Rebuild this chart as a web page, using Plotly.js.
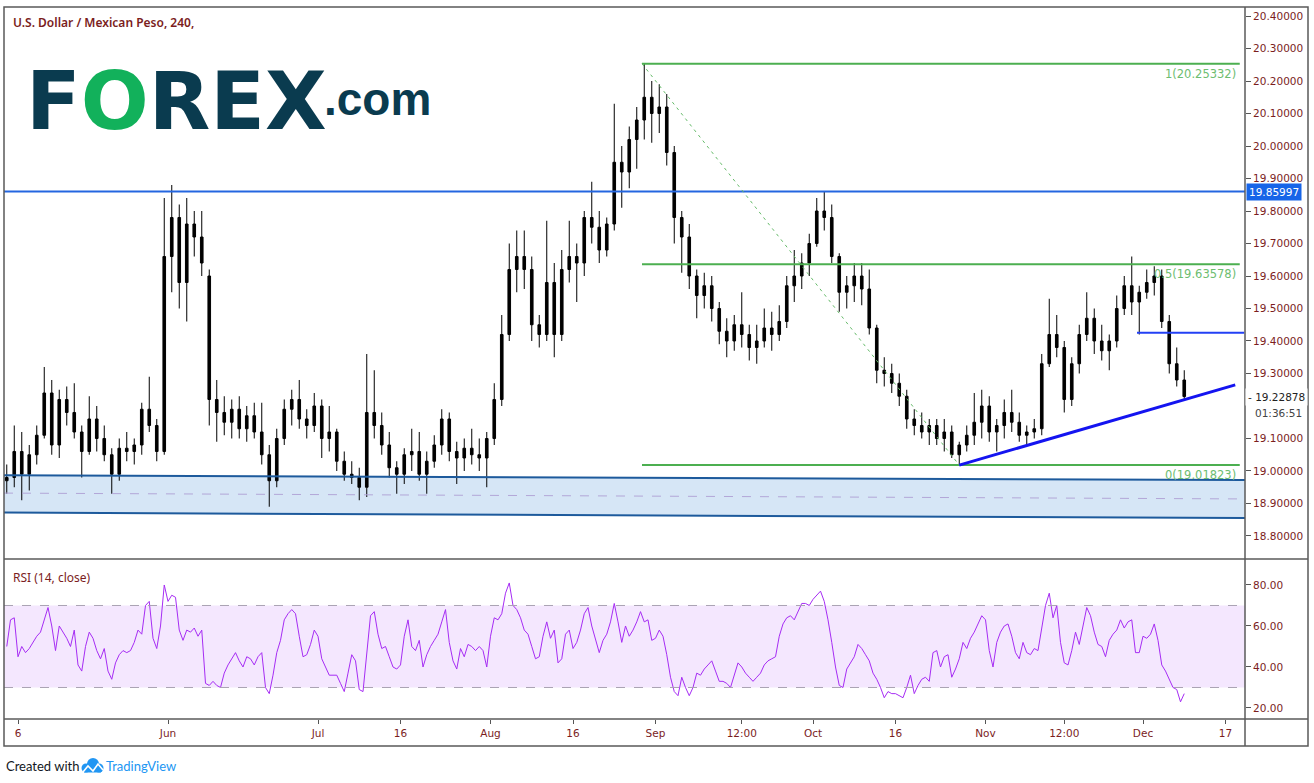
<!DOCTYPE html>
<html>
<head>
<meta charset="utf-8">
<script src="https://cdn.plot.ly/plotly-3.0.1.min.js"></script>
<style>html,body{margin:0;padding:0;background:#fff;}#chart{width:1314px;height:783px;}</style>
</head>
<body>
<div id="chart"></div>
<script>
// ---- DATA (day index: 0 = 6 May, trading days only) ----
const firstDay = -2;
const open  = [18.97,18.98,19.06,18.99,19.05,19.11,19.24,19.08,19.22,19.18,19.12,19.06,19.16,19.10,19.05,18.99,19.07,19.06,19.08,19.19,
19.14,19.06,19.66,19.78,19.58,19.76,19.72,19.60,19.22,19.18,19.15,19.19,19.13,19.17,19.12,19.05,18.97,19.10,19.19,19.22,
19.16,19.14,19.20,19.10,19.12,19.03,18.99,18.98,18.95,19.18,19.14,19.08,19.01,18.99,19.05,19.06,18.99,19.03,19.08,19.16,
19.06,19.04,19.07,19.05,19.04,19.10,19.22,19.42,19.62,19.66,19.62,19.45,19.42,19.58,19.42,19.62,19.66,19.64,19.78,19.75,
19.68,19.76,19.95,19.92,20.02,20.08,20.15,20.10,20.12,19.98,19.78,19.72,19.60,19.54,19.57,19.50,19.43,19.40,19.45,19.42,
19.38,19.40,19.44,19.42,19.46,19.57,19.60,19.64,19.70,19.80,19.78,19.66,19.55,19.57,19.60,19.56,19.44,19.31,19.30,19.27,
19.23,19.16,19.14,19.12,19.14,19.10,19.12,19.05,19.08,19.11,19.15,19.20,19.12,19.14,19.18,19.15,19.11,19.12,19.13,19.33,
19.42,19.38,19.22,19.33,19.42,19.47,19.40,19.37,19.40,19.50,19.57,19.52,19.55,19.58,19.60,19.46,19.33,19.28];
const high  = [19.02,19.14,19.12,19.08,19.14,19.32,19.28,19.25,19.26,19.27,19.14,19.23,19.20,19.14,19.07,19.10,19.12,19.10,19.21,19.29,
19.16,19.84,19.88,19.82,19.84,19.80,19.80,19.62,19.28,19.23,19.22,19.23,19.20,19.21,19.21,19.08,19.13,19.22,19.25,19.28,
19.19,19.24,19.22,19.20,19.13,19.06,19.03,19.01,19.36,19.31,19.18,19.12,19.03,19.07,19.13,19.12,19.06,19.11,19.19,19.18,
19.09,19.10,19.13,19.10,19.12,19.27,19.48,19.70,19.74,19.74,19.66,19.48,19.77,19.64,19.68,19.77,19.70,19.80,19.89,19.80,
19.78,20.13,20.00,20.06,20.12,20.253,20.20,20.19,20.16,20.00,19.80,19.76,19.62,19.61,19.60,19.52,19.47,19.48,19.55,19.45,
19.45,19.50,19.49,19.51,19.60,19.68,19.67,19.73,19.84,19.86,19.82,19.67,19.60,19.64,19.64,19.62,19.45,19.35,19.33,19.30,
19.25,19.19,19.18,19.16,19.16,19.16,19.14,19.09,19.14,19.24,19.25,19.23,19.16,19.22,19.25,19.18,19.14,19.16,19.36,19.53,
19.48,19.40,19.35,19.45,19.55,19.50,19.45,19.42,19.54,19.60,19.66,19.57,19.62,19.63,19.62,19.48,19.38,19.31];
const low   = [18.93,18.95,18.91,18.94,19.02,19.10,19.05,19.04,19.14,19.10,18.98,19.05,19.06,19.03,18.93,18.97,19.03,19.02,19.05,19.12,
19.03,19.05,19.55,19.50,19.46,19.66,19.60,19.14,19.09,19.11,19.10,19.10,19.09,19.10,19.02,18.89,18.95,19.08,19.14,19.13,
19.10,19.12,19.04,19.06,19.00,18.97,18.96,18.91,18.92,19.10,19.05,18.98,18.93,18.96,19.00,18.97,18.93,19.01,19.05,19.03,
18.96,19.00,19.02,19.00,18.95,19.08,19.20,19.40,19.55,19.56,19.40,19.38,19.40,19.35,19.40,19.58,19.52,19.60,19.70,19.64,
19.66,19.74,19.81,19.87,19.93,20.02,20.01,20.04,19.94,19.70,19.61,19.56,19.47,19.50,19.46,19.39,19.35,19.37,19.38,19.34,
19.33,19.38,19.37,19.40,19.44,19.52,19.56,19.60,19.69,19.74,19.64,19.49,19.50,19.52,19.51,19.42,19.27,19.26,19.24,19.20,
19.13,19.11,19.10,19.08,19.08,19.06,19.04,19.018,19.06,19.08,19.10,19.09,19.06,19.10,19.12,19.09,19.08,19.10,19.11,19.32,
19.35,19.18,19.20,19.30,19.40,19.36,19.34,19.31,19.38,19.48,19.48,19.42,19.53,19.54,19.44,19.30,19.26,19.22];
const close = [18.98,19.06,18.99,19.05,19.11,19.24,19.08,19.22,19.18,19.12,19.06,19.16,19.10,19.05,18.99,19.07,19.06,19.08,19.19,19.14,
19.06,19.66,19.78,19.58,19.76,19.72,19.64,19.22,19.18,19.15,19.19,19.13,19.17,19.12,19.05,18.97,19.10,19.19,19.22,19.16,
19.14,19.20,19.10,19.12,19.03,18.99,18.98,18.95,19.18,19.14,19.08,19.01,18.99,19.05,19.06,18.99,19.03,19.08,19.16,19.06,
19.04,19.07,19.05,19.04,19.10,19.22,19.42,19.62,19.66,19.62,19.45,19.42,19.58,19.42,19.62,19.66,19.64,19.78,19.75,19.68,
19.76,19.95,19.92,20.02,20.08,20.15,20.10,20.12,19.98,19.78,19.72,19.60,19.54,19.57,19.50,19.43,19.40,19.45,19.42,19.38,
19.40,19.44,19.42,19.46,19.57,19.60,19.64,19.70,19.80,19.78,19.66,19.55,19.57,19.60,19.56,19.44,19.31,19.30,19.27,19.23,
19.16,19.14,19.12,19.14,19.10,19.12,19.05,19.08,19.11,19.15,19.20,19.12,19.14,19.18,19.15,19.11,19.12,19.13,19.33,19.42,
19.38,19.22,19.33,19.42,19.47,19.40,19.37,19.40,19.50,19.57,19.52,19.55,19.58,19.60,19.46,19.33,19.28,19.229];

// RSI(14) sampled every half day, starting at day -1.5
const rsiStart = -1.5;
const rsiStep = 0.5;
const rsi = [50,63,64,
45,50,47,49,52,55,57,63,69,60,
48,60,57,54,50,58,41,38,50,57,
54,48,44,49,38,34,42,46,48,47,
48,52,58,56,70,72,54,49,60,80,
72,75,74,58,53,58,57,59,55,58,
32,31,33,31,30,37,41,44,47,43,
40,45,44,41,45,47,30,27,36,47,
53,63,66,68,66,55,45,46,51,58,
55,44,40,36,36,36,32,28,37,46,
43,29,28,45,65,67,56,49,50,45,
40,39,41,55,63,50,48,53,40,46,
50,53,56,62,68,52,43,39,49,45,
51,50,48,50,48,40,55,64,63,66,
76,81,70,68,64,58,56,50,44,45,
55,62,54,58,42,44,56,58,49,52,
58,66,69,60,54,47,53,56,62,71,
62,52,60,55,58,62,67,62,63,53,
54,58,55,46,35,28,26,35,30,26,
30,37,36,39,41,43,38,33,33,32,
30,36,42,40,37,35,33,35,37,41,
43,44,45,55,61,64,65,63,67,71,
71,70,73,75,77,72,63,52,40,31,
30,39,42,45,51,49,46,43,37,34,
30,25,28,27,27,26,25,30,36,27,
31,34,35,33,47,48,40,45,46,35,
39,44,52,49,54,57,61,65,63,48,
40,52,57,60,61,55,47,44,52,47,
46,49,48,60,70,76,64,70,52,42,
41,48,57,51,61,69,65,57,51,50,
45,53,56,58,63,59,62,63,47,47,
55,54,56,61,53,41,38,34,30,29,
23,27];

const tickDays   = [0,20,40,51,63,74,85,96.5,106,117,129,139.5,150,161];
const tickLabels = ['6','Jun','Jul','16','Aug','16','Sep','12:00','Oct','16','Nov','12:00','Dec','17'];
const priceTicks = [18.8,18.9,19.0,19.1,19.3,19.4,19.5,19.6,19.7,19.8,19.9,20.0,20.1,20.2,20.3,20.4];
const rsiTicks = [20,40,60,80];

const fibLevels = [20.25332, 19.63578, 19.01823];
const fibLabels = ['1(20.25332)', '0.5(19.63578)', '0(19.01823)'];
const fibStartDay = 83.2, fibLowDay = 125.5, fibEndDay = 162.9;
const resistance = 19.85997;
const shortLevel = 19.425, shortStartDay = 149.2;
const trendDays = [125.5, 162.3];
const trendPrices = [19.018, 19.265];
const channelTop = [18.987, 18.972];
const channelMid = [18.932, 18.914];
const channelBottom = [18.872, 18.855];
const lastPrice = 19.22878;
const countdown = '01:36:51';

// ---- LAYOUT HELPERS ----
const L = 4, R = 1245, T = 7, B = 719, SPLIT = 559;
const PX = px => (px - L) / (R - L);
const PY = py => (B - py) / (B - T);
const xRange = [-1.867, 163.6];
const maroon = '#7b1d1d';
const axisFont = {family: 'DejaVu Sans', size: 10.5, color: maroon};

const candleX = open.map((_, i) => firstDay + i + 0.5);
const rsiX = rsi.map((_, i) => rsiStart + i * rsiStep);

const traces = [
  {type: 'candlestick', x: candleX, open: open, high: high, low: low, close: close,
   xaxis: 'x', yaxis: 'y', whiskerwidth: 0, hoverinfo: 'skip',
   increasing: {line: {color: '#000', width: 1}, fillcolor: '#000'},
   decreasing: {line: {color: '#000', width: 1}, fillcolor: '#000'}},
  {type: 'scatter', mode: 'lines', x: rsiX, y: rsi, xaxis: 'x', yaxis: 'y2',
   line: {color: '#a62cf4', width: 1}, hoverinfo: 'skip'}
];

const shapes = [];
// RSI band
shapes.push({type: 'rect', xref: 'paper', yref: 'y2', x0: 0, x1: 1, y0: 30, y1: 70, fillcolor: '#f4e7fe', line: {width: 0}, layer: 'below'});
[70, 30].forEach(v => shapes.push({type: 'line', xref: 'paper', yref: 'y2', x0: 0, x1: 1, y0: v, y1: v, line: {color: '#aaa3b4', width: 1, dash: 'dash'}}));
// channel
shapes.push({type: 'path', xref: 'x', yref: 'y', layer: 'below', line: {width: 0}, fillcolor: 'rgba(52,128,210,0.2)',
  path: `M ${xRange[0]},${channelTop[0]} L ${xRange[1]},${channelTop[1]} L ${xRange[1]},${channelBottom[1]} L ${xRange[0]},${channelBottom[0]} Z`});
[channelTop, channelBottom].forEach(c => shapes.push({type: 'line', xref: 'x', yref: 'y', x0: xRange[0], x1: xRange[1], y0: c[0], y1: c[1], line: {color: '#1d5a9c', width: 2}}));
shapes.push({type: 'line', xref: 'x', yref: 'y', x0: xRange[0], x1: xRange[1], y0: channelMid[0], y1: channelMid[1], line: {color: '#b3a7d8', width: 1, dash: 'dash'}});
// resistance
shapes.push({type: 'line', xref: 'paper', yref: 'y', x0: 0, x1: 1, y0: resistance, y1: resistance, line: {color: '#2466e0', width: 2}});
// fib
fibLevels.forEach(v => shapes.push({type: 'line', xref: 'x', yref: 'y', x0: fibStartDay, x1: fibEndDay, y0: v, y1: v, line: {color: '#4caf50', width: 2}}));
shapes.push({type: 'line', xref: 'x', yref: 'y', x0: fibStartDay, x1: fibLowDay, y0: fibLevels[0], y1: fibLevels[2], line: {color: '#66bb6a', width: 1, dash: '3px,4px'}});
// short blue level & trend line
shapes.push({type: 'line', xref: 'x', yref: 'y', x0: shortStartDay, x1: xRange[1] - 0.1, y0: shortLevel, y1: shortLevel, line: {color: '#2340f5', width: 2}});
shapes.push({type: 'line', xref: 'x', yref: 'y', x0: trendDays[0], x1: trendDays[1], y0: trendPrices[0], y1: trendPrices[1], line: {color: '#1414f0', width: 3}});
// borders
const bc = '#5a5a5a';
const xOuter = PX(1308), yBottom = PY(746);
shapes.push({type: 'rect', xref: 'paper', yref: 'paper', x0: 0, x1: xOuter, y0: yBottom, y1: 1, line: {color: bc, width: 1.5}});
shapes.push({type: 'line', xref: 'paper', yref: 'paper', x0: 1, x1: 1, y0: yBottom, y1: 1, line: {color: bc, width: 1.5}});
shapes.push({type: 'line', xref: 'paper', yref: 'paper', x0: 0, x1: xOuter, y0: PY(SPLIT), y1: PY(SPLIT), line: {color: bc, width: 1.5}});
shapes.push({type: 'line', xref: 'paper', yref: 'paper', x0: 0, x1: xOuter, y0: 0, y1: 0, line: {color: bc, width: 1.5}});
// TradingView cloud icon
const blue = '#2196f3';
[[86, 768, 4.5], [93, 764, 6], [99, 768, 4.5]].forEach(c => shapes.push({type: 'circle', xref: 'paper', yref: 'paper',
  x0: PX(c[0] - c[2]), x1: PX(c[0] + c[2]), y0: PY(c[1] + c[2]), y1: PY(c[1] - c[2]), fillcolor: blue, line: {width: 0}}));
shapes.push({type: 'rect', xref: 'paper', yref: 'paper', x0: PX(84), x1: PX(101), y0: PY(772.5), y1: PY(767), fillcolor: blue, line: {width: 0}});
shapes.push({type: 'path', xref: 'paper', yref: 'paper', line: {color: '#fff', width: 1.6},
  path: `M ${PX(83)},${PY(772)} L ${PX(88)},${PY(766)} L ${PX(93)},${PY(771)} L ${PX(98)},${PY(764)} L ${PX(103)},${PY(770)}`});

const ann = [];
function txt(text, px, py, font, xa, ya, extra) {
  ann.push(Object.assign({xref: 'paper', yref: 'paper', x: PX(px), y: PY(py), text: text, showarrow: false,
    xanchor: xa || 'left', yanchor: ya || 'middle', font: font}, extra || {}));
}
txt('U.S. Dollar / Mexican Peso, 240,', 11, 22, {family: 'Noto Sans', size: 12, color: maroon, weight: 600});
txt('F<span style="color:#12b15b">O</span>REX', 24, 101, {family: 'DejaVu Sans', size: 80, color: '#0a3b4f', weight: 700});
txt('.com', 322, 99, {family: 'Liberation Sans', size: 46, color: '#0a3b4f', weight: 700});
txt('RSI (14, close)', 11, 577, {family: 'Noto Sans', size: 12, color: maroon});
txt('Created with', 4, 766, {family: 'Lato', size: 13, color: '#131722'});
txt('TradingView', 104, 766, {family: 'Lato', size: 13, color: blue});
// fib labels
fibLevels.forEach((v, i) => ann.push({xref: 'paper', yref: 'y', x: PX(1238), y: v, text: fibLabels[i], showarrow: false,
  xanchor: 'right', yanchor: 'top', yshift: -1, font: {family: 'DejaVu Sans', size: 11.5, color: '#6dbd70'}}));
// axis labels
ann.push({xref: 'paper', yref: 'y', x: 1, y: resistance, text: resistance.toFixed(5), showarrow: false, xanchor: 'left', yanchor: 'middle',
  xshift: 1, bgcolor: '#1765e8', borderpad: 2, font: {family: 'DejaVu Sans', size: 10.5, color: '#fff'}});
ann.push({xref: 'paper', yref: 'y', x: 1, y: lastPrice, text: '- ' + lastPrice.toFixed(5), showarrow: false, xanchor: 'left', yanchor: 'middle',
  xshift: 0, bgcolor: '#fff', borderpad: 2, font: {family: 'DejaVu Sans', size: 10.5, color: '#222'}});
ann.push({xref: 'paper', yref: 'y', x: 1, y: lastPrice, text: countdown, showarrow: false, xanchor: 'left', yanchor: 'middle',
  xshift: 8, yshift: -16, bgcolor: '#fff', borderpad: 1, font: {family: 'DejaVu Sans', size: 10.5, color: '#444'}});

const layout = {
  width: 1314, height: 783,
  margin: {l: L, r: 1314 - R, t: T, b: 783 - B, pad: 0},
  paper_bgcolor: '#fff', plot_bgcolor: '#fff',
  showlegend: false, dragmode: false, boxgap: 0.5,
  xaxis: {range: xRange, anchor: 'y2', tickvals: tickDays, ticktext: tickLabels, ticks: 'outside', ticklen: 4,
    tickcolor: '#555', showgrid: false, zeroline: false, showline: false, rangeslider: {visible: false},
    tickfont: axisFont, fixedrange: true},
  yaxis: {domain: [PY(SPLIT), 1], side: 'right', range: [18.7292, 20.4277], tickvals: priceTicks, tickformat: '.5f',
    ticks: 'outside', ticklen: 5, tickcolor: '#555', showgrid: false, zeroline: false, showline: false, tickfont: axisFont, fixedrange: true},
  yaxis2: {domain: [0, PY(SPLIT)], side: 'right', range: [14.63, 92.68], tickvals: rsiTicks, tickformat: '.2f',
    ticks: 'outside', ticklen: 5, tickcolor: '#555', showgrid: false, zeroline: false, showline: false, tickfont: axisFont, fixedrange: true},
  shapes: shapes,
  annotations: ann
};
Plotly.newPlot('chart', traces, layout, {displayModeBar: false, staticPlot: true});
</script>
</body>
</html>
